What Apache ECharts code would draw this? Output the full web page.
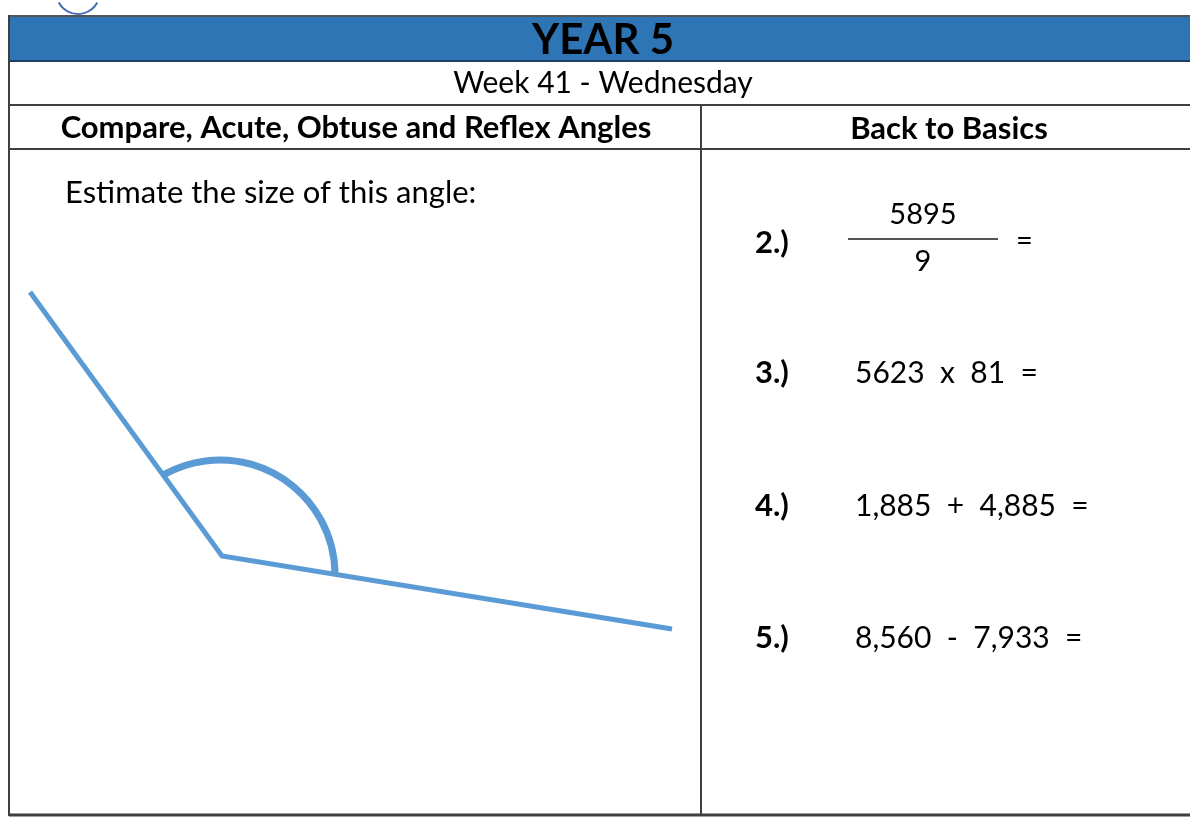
<!DOCTYPE html>
<html>
<head>
<meta charset="utf-8">
<script src="https://cdn.jsdelivr.net/npm/echarts@6/dist/echarts.min.js"></script>
<style>html,body{margin:0;padding:0;background:#fff}#c{width:1190px;height:817px}</style>
</head>
<body>
<div id="c"></div>
<script>
// ---- data ----
const title = 'YEAR 5';
const subtitle = 'Week 41 - Wednesday';
const leftHeader = 'Compare, Acute, Obtuse and Reflex Angles';
const rightHeader = 'Back to Basics';
const prompt = 'Estimate the size of this angle:';
const questionLabels = ['2.)', '3.)', '4.)', '5.)'];
const fractionTop = '5895';
const fractionBottom = '9';
const questionTexts = ['=', '5623  x  81  =', '1,885  +  4,885  =', '8,560  -  7,933  ='];
// angle drawing (in page units)
const armPoints = [[30, 292], [222, 556], [672, 629]];
const arcCenter = [220, 575];
const arcStart = [163, 472];
const arcEnd = [335, 575];

// ---- chart ----
const chart = echarts.init(document.getElementById('c'));
const FONT = 'Lato, "Noto Sans", sans-serif';
const lineCol = '#3f3f3f';
const qY = [243, 373, 506, 638];

const g = [];
function hline(x1, x2, y, w, c) { g.push({type:'line', shape:{x1, y1:y, x2, y2:y}, style:{stroke:c||lineCol, lineWidth:w||2}, z:10}); }
function vline(x, y1, y2, w, c) { g.push({type:'line', shape:{x1:x, y1, x2:x, y2}, style:{stroke:c||lineCol, lineWidth:w||2}, z:10}); }
function text(t, x, y, size, bold, align) {
  g.push({type:'text', x, y, style:{text:t, font:(bold?'bold ':'') + size + 'px ' + FONT, fill:'#000', textAlign:align||'left', textVerticalAlign:'middle'}, z:20});
}
// small blue remnant at top
g.push({type:'arc', shape:{cx:78, cy:-8, r:22, startAngle:0.5, endAngle:Math.PI-0.5, clockwise:true}, style:{fill:null, stroke:'#4a6fb5', lineWidth:2}, z:5});
// blue band
g.push({type:'rect', shape:{x:9, y:17, width:1181, height:44}, style:{fill:'#2E75B6'}, z:1});
hline(9, 1190, 16, 2, '#555');
hline(9, 1190, 61, 2, '#1f3f5f');
hline(9, 1190, 105, 2);
hline(9, 1190, 149, 2);
hline(9, 1190, 815, 3);
vline(9, 15, 816, 2);
vline(701, 106, 816, 2);

text(title, 603, 40, 42, true, 'center');
text(subtitle, 603, 83, 30, false, 'center');
text(leftHeader, 356, 128, 31, true, 'center');
text(rightHeader, 949, 129, 31, true, 'center');
text(prompt, 65, 193, 31, false, 'left');
questionLabels.forEach((l, i) => text(l, 755, qY[i], 31, true, 'left'));
text(fractionTop, 923, 215, 29, false, 'center');
text(fractionBottom, 923, 262, 29, false, 'center');
hline(848, 998, 239, 2, '#555');
text(questionTexts[0], 1016, 241, 29, false, 'left');
for (let i = 1; i < 4; i++) text(questionTexts[i], 855, qY[i], 30, false, 'left');

chart.setOption({
  animation: false,
  grid: {left:0, right:0, top:0, bottom:0},
  xAxis: {type:'value', min:0, max:1190, show:false},
  yAxis: {type:'value', min:0, max:817, inverse:true, show:false},
  graphic: g,
  series: [
    {type:'line', data: armPoints, symbol:'none', lineStyle:{color:'#5B9BD5', width:5, join:'miter'}, z:3},
    {type:'custom', data:[[...arcCenter, ...arcStart, ...arcEnd]], encode:{x:[0,2,4], y:[1,3,5]},
     renderItem: function (params, api) {
       const c = api.coord([api.value(0), api.value(1)]);
       const s = api.coord([api.value(2), api.value(3)]);
       const e = api.coord([api.value(4), api.value(5)]);
       const r = Math.hypot(e[0]-c[0], e[1]-c[1]);
       return {type:'arc', shape:{cx:c[0], cy:c[1], r:r,
         startAngle: Math.atan2(s[1]-c[1], s[0]-c[0]),
         endAngle: Math.atan2(e[1]-c[1], e[0]-c[0]), clockwise:true},
         style:{stroke:'#5B9BD5', lineWidth:7, fill:null}};
     }, z:3}
  ]
});
</script>
</body>
</html>
